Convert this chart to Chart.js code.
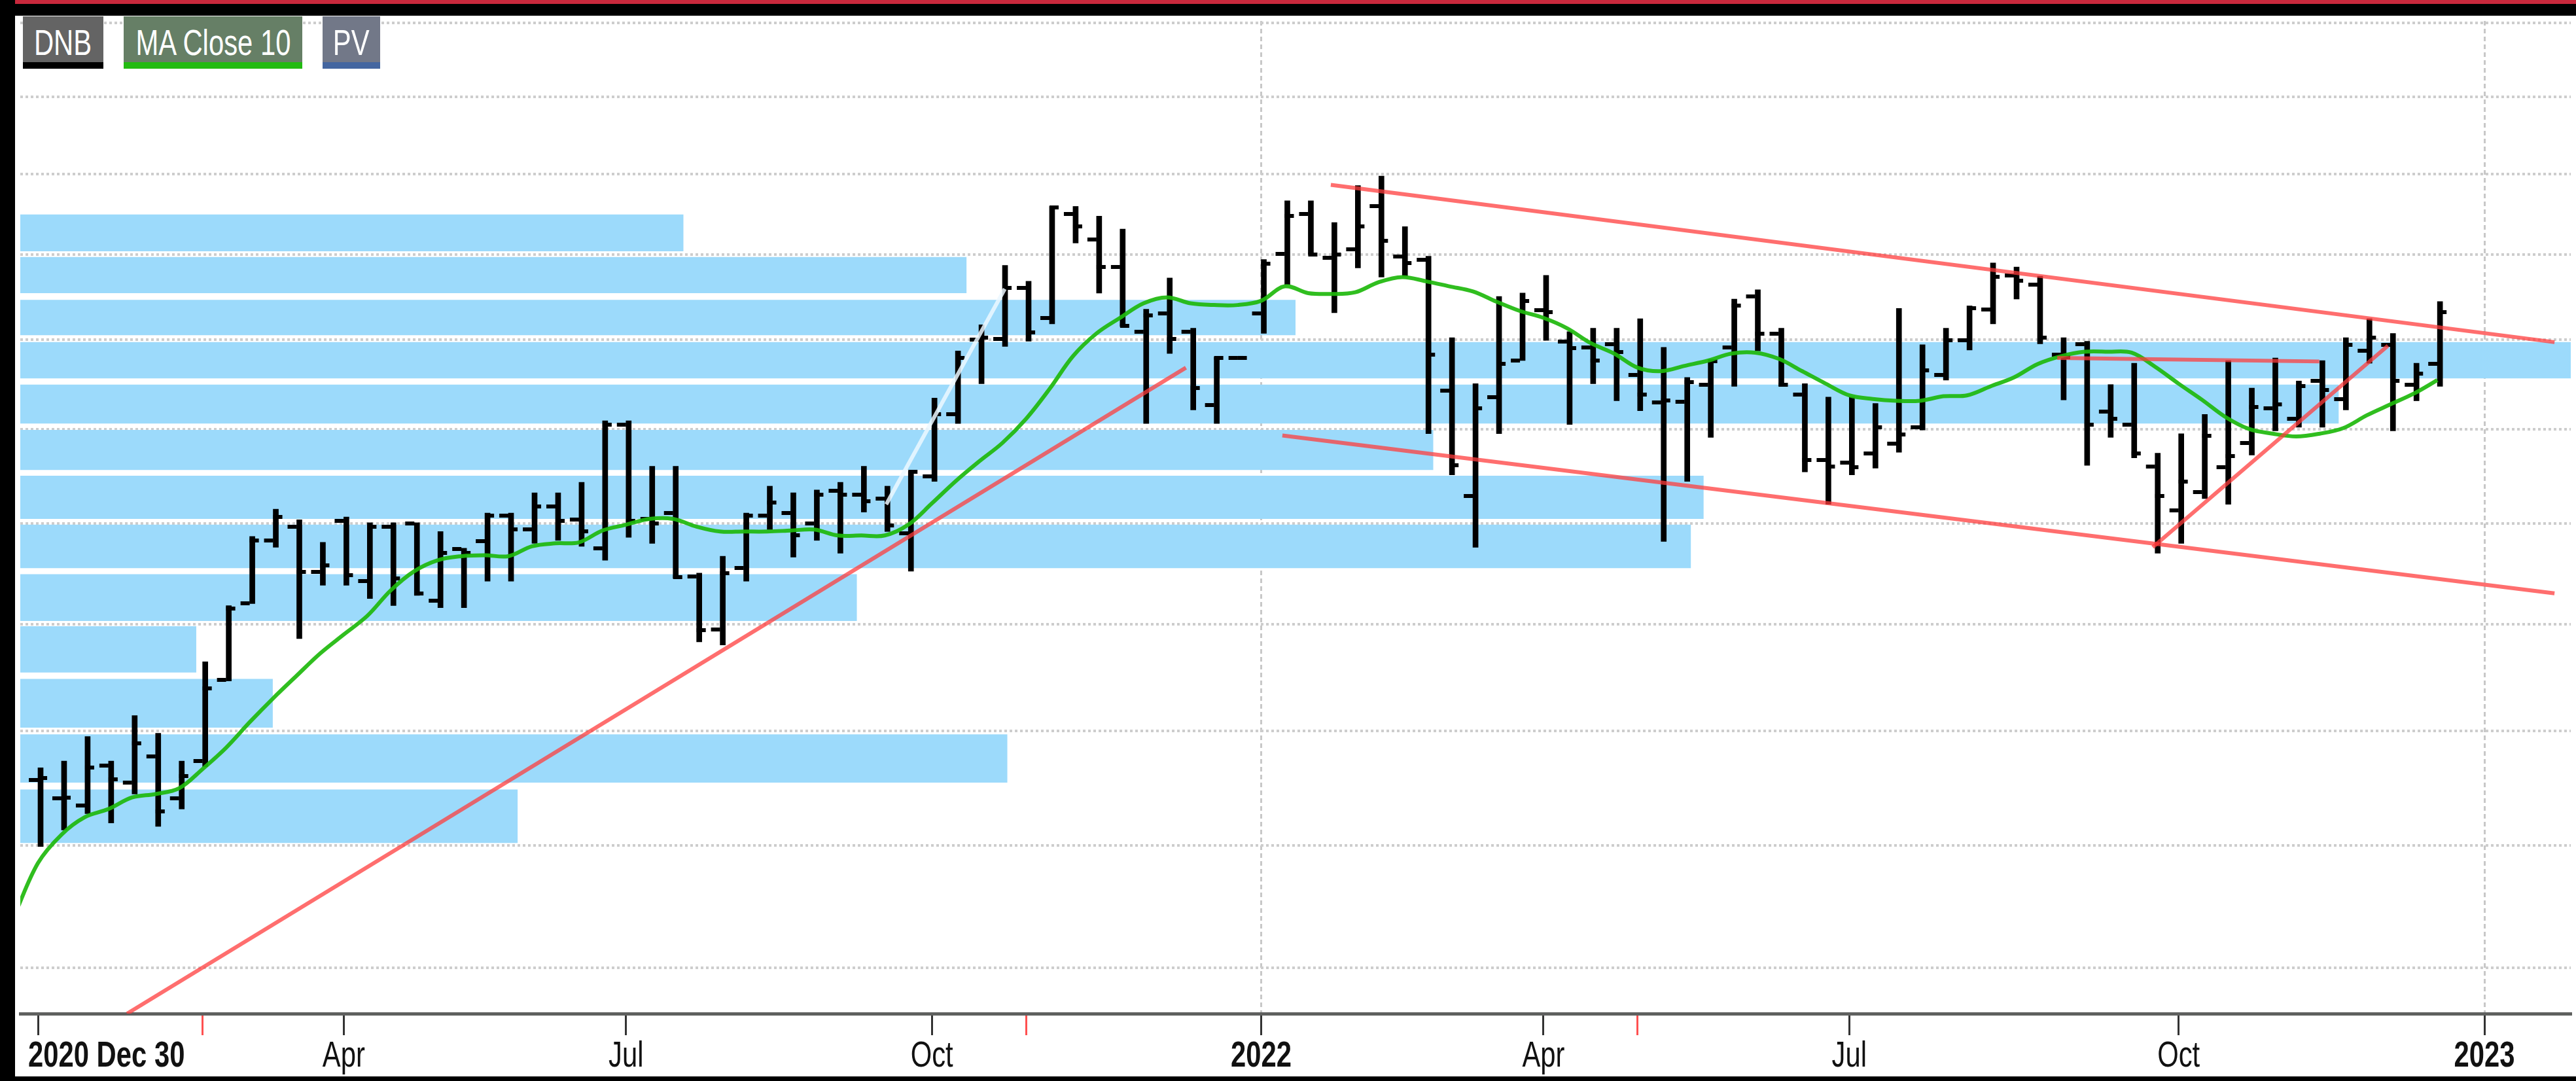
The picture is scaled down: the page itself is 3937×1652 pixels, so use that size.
<!DOCTYPE html>
<html>
<head>
<meta charset="utf-8">
<title>DNB</title>
<script src="https://cdn.jsdelivr.net/npm/chart.js@4.4.1/dist/chart.umd.min.js"></script>
<style>
  html, body { margin: 0; padding: 0; background: #fff; }
  #wrap { position: relative; width: 3937px; height: 1652px; overflow: hidden; background: #fff; }
  #topRed { position: absolute; left: 0; top: 0; width: 3937px; height: 6px; background: #c8283c; }
  #topBlack { position: absolute; left: 0; top: 6px; width: 3937px; height: 18px; background: #000; }
  #leftBlack { position: absolute; left: 0; top: 0; width: 23px; height: 1652px; background: #000; }
  #bottomBlack { position: absolute; left: 0; top: 1645px; width: 3937px; height: 7px; background: #000; }
  #chart { position: absolute; left: 23px; top: 24px; }
  .tag {
    position: absolute; top: 25px; height: 70px; overflow: hidden;
    display: flex; justify-content: center;
    border-bottom: 10px solid #000; color: #fff;
    font: 55px 'Liberation Sans', Arial, sans-serif;
    line-height: 80px; white-space: nowrap;
  }
  .tag span { display: inline-block; transform: scaleX(0.76); }
</style>
</head>
<body>
<div id="wrap">
  <canvas id="chart" width="3914" height="1621"></canvas>
  <div id="topRed"></div>
  <div id="topBlack"></div>
  <div id="leftBlack"></div>
  <div id="bottomBlack"></div>
  <div class="tag" style="left:35px;width:123px;background:#646464;border-color:#000;"><span>DNB</span></div>
  <div class="tag" style="left:189px;width:273px;background:#667f66;border-color:#22bb11;"><span>MA Close 10</span></div>
  <div class="tag" style="left:493px;width:88px;background:#727888;border-color:#4466a0;"><span>PV</span></div>
</div>
<script>
const FONT = "'Liberation Sans', Arial, sans-serif";
const NARROW = 0.76;   // the chart's axis font is a condensed face

// weekly bars, one entry per week
const barOpen = [144.0,145.6,144.0,143.4,146.9,145.4,147.7,144.0,147.3,154.7,
  162.0,168.3,169.7,165.1,170.3,164.2,169.7,170.0,162.3,167.4,
  168.2,170.8,169.4,171.8,170.4,167.5,180.5,170.5,171.1,164.7,
  159.5,165.5,170.8,171.1,170.0,173.4,173.0,172.6,169.0,174.9,
  181.6,190.0,190.1,196.0,192.5,205.0,201.8,198.5,190.9,193.0,
  190.9,182.6,187.9,193.0,200.1,205.0,199.6,200.6,205.9,199.8,
  199.4,184.2,172.9,183.5,187.6,193.4,189.8,189.1,189.5,186.0,
  182.9,183.0,184.9,189.1,195.0,190.7,183.8,176.7,176.4,177.4,
  178.4,180.2,186.0,189.9,193.5,197.5,196.4,188.3,189.5,181.9,
  180.5,176.0,171.4,173.3,175.9,178.5,182.3,181.1,185.3,183.3,
  188.7,189.4,184.9,187.2];
const barHigh = [147.0,146.7,147.3,149.5,147.3,151.4,149.8,147.3,156.4,161.8,
  168.7,171.5,170.4,168.1,170.7,170.1,170.1,170.1,169.2,167.5,
  171.1,171.1,173.2,173.2,174.3,180.9,180.9,176.0,176.0,165.0,
  166.7,171.1,173.9,173.2,173.5,174.3,176.0,173.9,175.5,183.4,
  188.7,191.7,198.7,196.8,205.9,205.9,204.7,203.1,193.5,197.2,
  191.3,188.0,188.1,199.4,206.6,206.6,203.9,208.5,209.7,203.4,
  199.8,190.2,185.0,195.0,195.4,197.5,190.9,191.3,191.3,192.4,
  189.1,185.7,187.6,194.7,195.8,191.3,185.0,183.5,183.5,182.8,
  193.6,189.4,191.3,193.9,199.0,198.5,197.4,190.2,189.8,184.9,
  187.3,177.4,179.5,181.6,187.6,184.5,187.9,185.3,187.6,190.2,
  192.4,190.7,187.3,194.4];
const barLow = [142.0,139.9,141.3,142.7,141.9,144.4,141.6,143.1,146.8,154.6,
  162.0,167.6,158.6,163.8,163.8,162.5,161.8,162.8,161.6,161.6,
  164.2,164.2,168.0,168.3,167.7,166.3,168.6,168.0,164.5,158.3,
  158.0,164.2,169.4,166.6,168.3,167.0,171.2,169.2,165.2,174.4,
  180.6,185.0,189.2,189.8,191.8,201.4,195.4,191.5,180.6,188.4,
  182.1,180.6,187.7,190.7,196.4,200.0,193.1,198.4,197.3,197.4,
  179.5,175.1,167.6,179.5,187.6,189.9,180.5,185.0,183.1,182.0,
  168.2,174.4,179.1,184.7,188.7,184.7,175.4,172.0,175.1,175.8,
  177.5,179.9,185.4,188.8,191.8,194.7,189.5,183.2,176.1,179.1,
  176.9,167.0,168.0,172.6,172.0,177.2,179.8,180.2,180.2,182.1,
  187.3,179.8,183.1,184.7];
const barClose = [145.7,145.8,144.1,146.7,145.7,148.9,142.9,146.0,153.9,161.5,
  168.3,170.7,165.1,165.8,164.8,169.7,164.5,163.0,167.0,167.0,
  170.8,169.4,171.8,170.3,169.2,180.5,170.3,170.0,164.6,159.4,
  165.0,170.8,172.2,168.8,173.0,173.0,172.3,169.8,175.4,181.6,
  187.9,190.2,196.0,190.8,205.8,203.4,198.5,191.6,192.8,190.1,
  184.5,187.9,187.9,198.9,204.7,200.0,200.0,203.4,201.7,199.0,
  188.3,176.1,182.3,187.2,194.5,193.2,189.0,187.6,188.6,183.8,
  183.1,185.2,187.5,193.9,190.7,184.9,176.7,176.0,175.9,180.2,
  179.4,186.5,189.9,193.6,197.3,196.9,190.2,188.0,180.5,181.1,
  177.4,172.9,174.4,179.3,177.1,182.4,182.7,184.7,184.3,189.4,
  190.2,185.3,186.1,193.2];
const maClose = [134.2,138.5,140.9,142.4,143.1,144.1,144.4,144.9,146.6,148.5,
  150.8,153.0,155.1,157.2,159.0,160.8,163.3,165.2,166.3,166.7,
  166.8,166.7,167.7,168.0,168.1,169.3,169.9,170.5,170.5,169.7,
  169.2,169.2,169.2,169.3,169.4,168.8,168.8,168.8,169.9,172.1,
  174.4,176.5,178.5,181.1,184.4,188.1,190.7,192.5,194.2,194.9,
  194.2,194.0,194.0,194.5,196.2,195.4,195.3,195.5,196.7,197.3,
  196.8,196.2,195.6,194.4,193.3,192.5,191.3,189.6,188.4,186.8,
  186.4,187.0,187.6,188.4,188.5,187.8,186.4,185.0,183.7,183.3,
  183.1,183.1,183.6,183.7,184.7,185.7,187.2,188.1,188.6,188.6,
  188.5,186.9,185.0,183.2,181.3,180.0,179.5,179.2,179.5,180.1,
  181.5,182.7,183.9,185.4];

// price volume bins (share of chart width)
const pvLow  = [200.4,195.4,190.5,185.6,180.6,175.6,170.5,165.5,160.3,155.4,150.3,145.4,140.2];
const pvHigh = [204.9,199.7,194.6,189.7,184.9,179.9,175.0,169.9,164.9,159.8,154.8,149.7,144.8];
const pvVol  = [26.0,37.1,50.0,100,90.9,55.4,66.0,65.5,32.8,6.9,9.9,38.7,19.5];

// drawn trend lines: start week/price, end week/price (last one is the pale one)
const trendK0 = [4.79, 55.96, 53.9, 86.84, 90.9, 37.06];
const trendP0 = [126.47, 208.6, 179.3, 187.9, 167.6, 172.0];
const trendK1 = [49.8, 107.98, 107.98, 97.98, 100.9, 42.1];
const trendP1 = [186.8, 189.7, 163.0, 187.5, 189.3, 195.9];

// x axis ticks (week index) and their labels
const tickK    = [1, 8, 14, 26, 39, 43, 53, 65, 69, 78, 92, 105];
const tickText = ['2020 Dec 30', '', 'Apr', 'Jul', 'Oct', '', '2022', 'Apr', '', 'Jul', 'Oct', '2023'];
const tickRed  = [false, true, false, false, false, true, false, false, true, false, false, false];

const yGrid = [130, 140, 150, 160, 170, 180, 190, 200, 210, 220, 230];

const isYear = i => /^\d{4}/.test(tickText[i] || '');
const isYearOnly = i => /^\d{4}$/.test(tickText[i] || '');

function tickMark(left) {
  const c = document.createElement('canvas');
  c.width = 32;
  c.height = 6;
  const g = c.getContext('2d');
  g.fillStyle = '#000';
  g.fillRect(left ? 2 : 16, 0, 14, 6);
  return c;
}

const weeks = barClose.map((_, i) => i);

const datasets = [];

pvLow.forEach((lo, i) => {
  datasets.push({
    type: 'line',
    xAxisID: 'xv',
    yAxisID: 'y',
    data: [{x: 0, y: lo}, {x: pvVol[i], y: lo}, {x: pvVol[i], y: pvHigh[i]}, {x: 0, y: pvHigh[i]}],
    fill: 'shape',
    backgroundColor: '#9cdafb',
    borderColor: 'rgba(0,0,0,0)',
    borderWidth: 0,
    pointRadius: 0,
    tension: 0,
    order: 10
  });
});

datasets.push({
  type: 'bar',
  xAxisID: 'x',
  yAxisID: 'y',
  data: weeks.map(i => ({x: i, y: [barLow[i], barHigh[i]]})),
  backgroundColor: '#000',
  borderWidth: 0,
  barThickness: 8,
  order: 6
});

datasets.push({
  type: 'scatter',
  xAxisID: 'x',
  yAxisID: 'y',
  data: weeks.map(i => ({x: i, y: barOpen[i]})),
  pointStyle: tickMark(true),
  pointRadius: 7,
  order: 5
});

datasets.push({
  type: 'scatter',
  xAxisID: 'x',
  yAxisID: 'y',
  data: weeks.map(i => ({x: i, y: barClose[i]})),
  pointStyle: tickMark(false),
  pointRadius: 7,
  order: 5
});

datasets.push({
  type: 'line',
  xAxisID: 'x',
  yAxisID: 'y',
  data: weeks.map(i => ({x: i, y: maClose[i]})),
  borderColor: 'rgba(30,184,12,0.92)',
  borderWidth: 6,
  pointRadius: 0,
  tension: 0.35,
  fill: false,
  order: 3
});

trendK0.forEach((k, i) => {
  const pale = i === trendK0.length - 1;
  datasets.push({
    type: 'line',
    xAxisID: 'x',
    yAxisID: 'y',
    data: [{x: k, y: trendP0[i]}, {x: trendK1[i], y: trendP1[i]}],
    borderColor: pale ? 'rgba(236,248,255,0.85)' : 'rgba(255,60,60,0.74)',
    borderWidth: 6,
    pointRadius: 0,
    fill: false,
    order: 2
  });
});

// axis labels are drawn squeezed sideways, like the condensed face of the original
const narrowText = {
  id: 'narrowText',
  beforeDraw(chart) {
    const g = chart.ctx;
    const orig = CanvasRenderingContext2D.prototype.fillText;
    g.fillText = function (t, x, y, w) {
      this.save();
      this.translate(x, y);
      this.scale(NARROW, 1);
      if (w === undefined) orig.call(this, t, 0, 0); else orig.call(this, t, 0, 0, w / NARROW);
      this.restore();
    };
  },
  beforeDatasetsDraw(chart) {
    delete chart.ctx.fillText;
  },
  afterDraw(chart) {
    // first label sits to the right of its tick
    const s = chart.scales.x;
    const g = chart.ctx;
    g.save();
    g.font = 'bold 55px ' + FONT;
    g.fillStyle = '#111';
    g.textAlign = 'left';
    g.textBaseline = 'middle';
    g.translate(s.getPixelForValue(tickK[0]) - 15, s.top + 33 + 55 * 1.2 / 2);
    g.scale(NARROW, 1);
    g.fillText(tickText[0], 0, 0);
    g.restore();
  }
};

new Chart(document.getElementById('chart'), {
  type: 'bar',
  data: { datasets },
  plugins: [narrowText],
  options: {
    responsive: false,
    animation: false,
    events: [],
    layout: { padding: 0 },
    plugins: { legend: { display: false }, tooltip: { enabled: false } },
    scales: {
      x: {
        type: 'linear',
        position: 'bottom',
        min: 0.249,
        max: 108.67,
        bounds: 'data',
        offset: false,
        afterBuildTicks: s => { s.ticks = tickK.map(v => ({value: v})); },
        afterFit: s => { s.height = 96; },
        ticks: {
          autoSkip: false,
          maxRotation: 0,
          minRotation: 0,
          padding: 0,
          color: '#111',
          font: c => ({family: FONT, size: 55, weight: isYear(c.index) ? 'bold' : 'normal'}),
          callback: (v, i) => i === 0 ? '' : tickText[i]
        },
        grid: {
          offset: false,
          color: c => isYearOnly(c.index) ? '#c8c8c8' : 'rgba(0,0,0,0)',
          lineWidth: 3,
          tickLength: 33,
          tickWidth: 3,
          tickColor: c => tickRed[c.index] ? '#ff5050' : '#333'
        },
        border: { display: true, color: '#5f605f', width: 5, dash: [7, 5] }
      },
      xv: {
        type: 'linear',
        display: false,
        min: 0,
        max: 100,
        bounds: 'data',
        offset: false
      },
      y: {
        type: 'logarithmic',
        position: 'left',
        min: 126.47,
        max: 230.3,
        bounds: 'data',
        afterBuildTicks: s => { s.ticks = yGrid.map(v => ({value: v})); },
        afterFit: s => { s.width = 0; },
        ticks: { display: false },
        grid: { color: '#cdcdcd', lineWidth: 4, drawTicks: false },
        border: { display: false, dash: [4, 4] }
      }
    }
  }
});
</script>
</body>
</html>
